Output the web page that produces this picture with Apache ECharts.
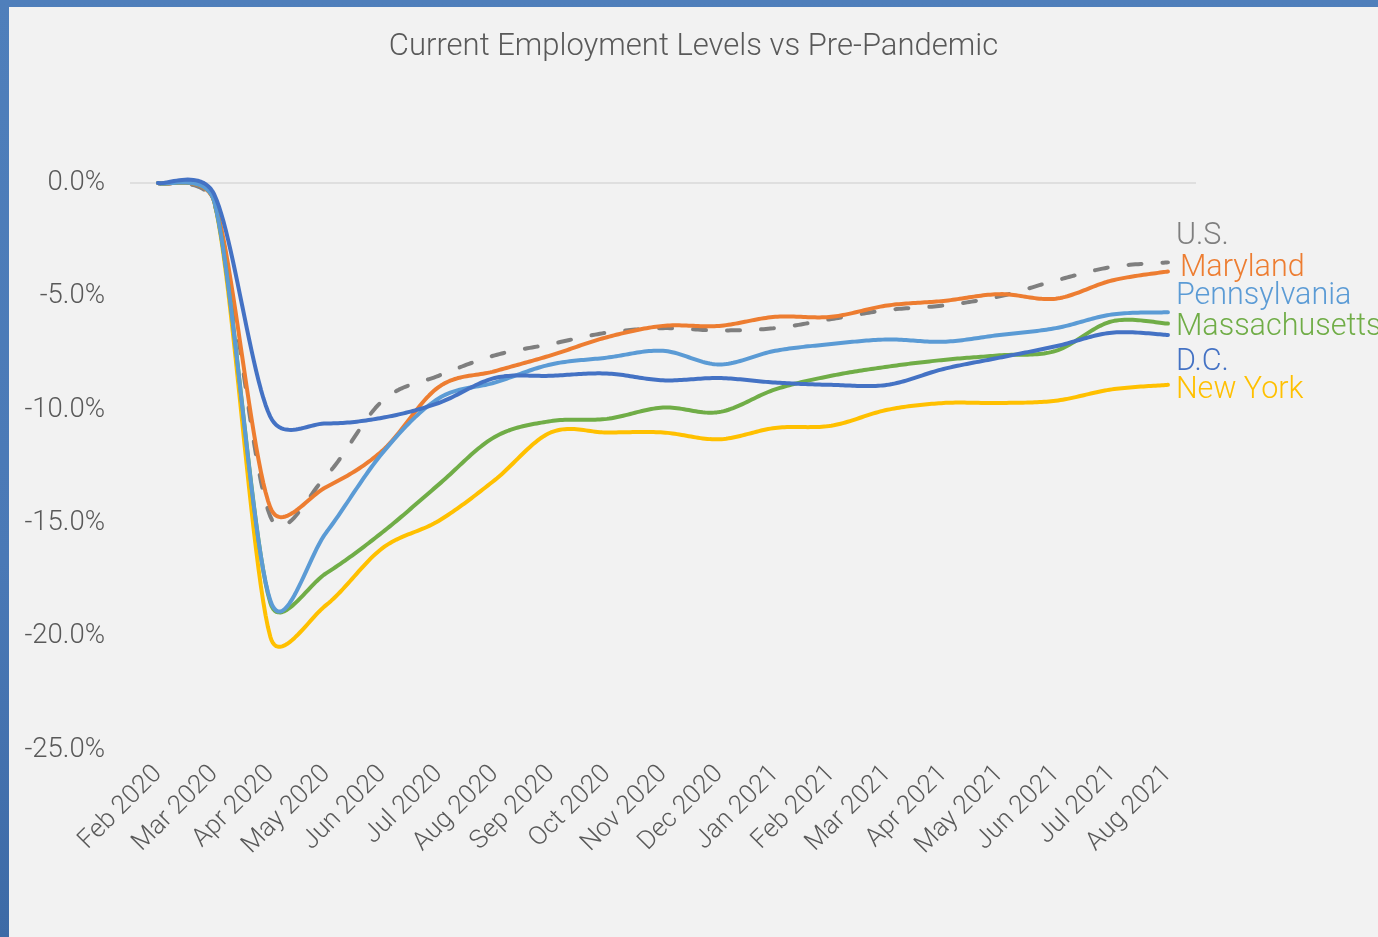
<!DOCTYPE html>
<html>
<head>
<meta charset="utf-8">
<script src="https://cdn.jsdelivr.net/npm/echarts/dist/echarts.min.js"></script>
<style>
  html, body { margin: 0; padding: 0; width: 1378px; height: 937px; overflow: hidden;
    background: linear-gradient(180deg, #4f7fbb 0%, #4a79b6 60%, #3d6aa6 100%); }
  #chart { position: absolute; left: 9px; top: 7px; width: 1369px; height: 930px; background: #f2f2f2; }
</style>
</head>
<body>
<div id="chart"></div>
<script>
const categories = ['Feb 2020','Mar 2020','Apr 2020','May 2020','Jun 2020','Jul 2020','Aug 2020','Sep 2020','Oct 2020','Nov 2020','Dec 2020','Jan 2021','Feb 2021','Mar 2021','Apr 2021','May 2021','Jun 2021','Jul 2021','Aug 2021'];
const us            = [0, -0.9, -14.7, -12.9, -9.6, -8.5, -7.6, -7.1, -6.6, -6.4, -6.5, -6.4, -6.0, -5.6, -5.4, -5.0, -4.3, -3.7, -3.5];
const maryland      = [0, -0.8, -14.3, -13.4, -11.8, -9.0, -8.3, -7.6, -6.8, -6.3, -6.3, -5.9, -5.9, -5.4, -5.2, -4.9, -5.1, -4.3, -3.9];
const pennsylvania  = [0, -0.8, -18.4, -15.4, -11.9, -9.5, -8.8, -8.0, -7.7, -7.4, -8.0, -7.4, -7.1, -6.9, -7.0, -6.7, -6.4, -5.8, -5.7];
const massachusetts = [0, -0.8, -18.5, -17.2, -15.4, -13.3, -11.2, -10.5, -10.4, -9.9, -10.1, -9.1, -8.5, -8.1, -7.8, -7.6, -7.4, -6.1, -6.2];
const dc            = [0, -0.5, -10.3, -10.6, -10.35, -9.7, -8.6, -8.5, -8.4, -8.7, -8.6, -8.8, -8.9, -8.9, -8.2, -7.7, -7.2, -6.6, -6.7];
const newYork       = [0, -0.8, -20.0, -18.6, -16.1, -14.9, -13.1, -11.0, -11.0, -11.0, -11.3, -10.8, -10.7, -10.0, -9.7, -9.7, -9.6, -9.1, -8.9];
const yTicks = { min: -25, max: 0, interval: 5 };

const FONT = 'Roboto, "Liberation Sans", sans-serif';
const chart = echarts.init(document.getElementById('chart'), null, { renderer: 'canvas' });

// Spreadsheet-style smoothing: cubic Bezier through every point, tangents 1/6 of
// neighbour span, control distance capped at half the segment length.
function smoothSample(pts, n) {
  const out = [pts[0].slice()];
  const N = pts.length;
  for (let i = 0; i < N - 1; i++) {
    const p0 = pts[Math.max(i - 1, 0)], p1 = pts[i], p2 = pts[i + 1], p3 = pts[Math.min(i + 2, N - 1)];
    const cap = Math.hypot(p2[0] - p1[0], p2[1] - p1[1]) / 2;
    let ax = (p2[0] - p0[0]) / 6, ay = (p2[1] - p0[1]) / 6;
    const la = Math.hypot(ax, ay);
    if (la > cap && la > 0) { ax *= cap / la; ay *= cap / la; }
    let bx = (p3[0] - p1[0]) / 6, by = (p3[1] - p1[1]) / 6;
    const lb = Math.hypot(bx, by);
    if (lb > cap && lb > 0) { bx *= cap / lb; by *= cap / lb; }
    const c1x = p1[0] + ax, c1y = p1[1] + ay, c2x = p2[0] - bx, c2y = p2[1] - by;
    for (let k = 1; k <= n; k++) {
      const t = k / n, u = 1 - t;
      const a = u * u * u, b = 3 * u * u * t, c = 3 * u * t * t, d = t * t * t;
      out.push([a * p1[0] + b * c1x + c * c2x + d * p2[0], a * p1[1] + b * c1y + c * c2y + d * p2[1]]);
    }
  }
  return out;
}

function mkSeries(name, values, color, labelOffset, dash, z) {
  return {
    name: name,
    type: 'custom',
    coordinateSystem: 'cartesian2d',
    data: values.map(function (v, i) { return [i, v]; }),
    encode: { x: 0, y: 1 },
    silent: true,
    z: z,
    renderItem: function (params, api) {
      if (params.dataIndex !== 0) return null;
      const pts = values.map(function (v, i) { return api.coord([i, v]); });
      const curve = smoothSample(pts, 24);
      const last = pts[pts.length - 1];
      const lineStyle = { stroke: color, fill: null, lineWidth: 4, lineCap: 'round', lineJoin: 'round' };
      if (dash) lineStyle.lineDash = dash;
      return {
        type: 'group',
        children: [
          { type: 'polyline', shape: { points: curve, smooth: 0 }, style: lineStyle },
          { type: 'text', x: last[0] + labelOffset[0], y: last[1] + labelOffset[1],
            style: { text: name, fill: color, fontSize: 30.5, fontFamily: FONT, fontWeight: 300,
                     align: 'left', verticalAlign: 'middle' } }
        ]
      };
    }
  };
}

const option = {
  backgroundColor: '#f2f2f2',
  animation: false,
  title: {
    text: 'Current Employment Levels vs Pre-Pandemic',
    left: 'center',
    top: 20,
    textStyle: { fontSize: 31, color: '#595959', fontWeight: 300, fontFamily: FONT }
  },
  grid: { left: 121, right: 182, top: 176, bottom: 187, containLabel: false },
  xAxis: {
    type: 'category',
    data: categories,
    boundaryGap: true,
    axisLine: { show: false, onZero: false },
    axisTick: { show: false },
    splitLine: { show: false },
    axisLabel: { interval: 0, rotate: 45, margin: 20, fontSize: 26, color: '#595959', fontFamily: FONT, fontWeight: 300 }
  },
  yAxis: {
    type: 'value',
    min: yTicks.min,
    max: yTicks.max,
    interval: yTicks.interval,
    axisLine: { show: false },
    axisTick: { show: false },
    // only the 0 line is visible (ticks ordered -25 ... 0)
    splitLine: {
      show: true,
      lineStyle: {
        color: ['rgba(0,0,0,0)', 'rgba(0,0,0,0)', 'rgba(0,0,0,0)', 'rgba(0,0,0,0)', 'rgba(0,0,0,0)', '#d9d9d9'],
        width: 1.5
      }
    },
    axisLabel: {
      margin: 25, fontSize: 27.5, color: '#595959', fontFamily: FONT, fontWeight: 300,
      formatter: function (v) { return (Math.abs(v) < 1e-9 ? 0 : v).toFixed(1) + '%'; }
    }
  },
  series: [
    mkSeries('U.S.', us, '#7f7f7f', [8, -26], [13, 21], 1),
    mkSeries('New York', newYork, '#ffc000', [8, 6], null, 2),
    mkSeries('Maryland', maryland, '#ed7d31', [12, -3], null, 3),
    mkSeries('Massachusetts', massachusetts, '#70ad47', [8, 4], null, 4),
    mkSeries('Pennsylvania', pennsylvania, '#5b9bd5', [8, -16], null, 5),
    mkSeries('D.C.', dc, '#4472c4', [8, 27], null, 6)
  ]
};
chart.setOption(option);
</script>
</body>
</html>
